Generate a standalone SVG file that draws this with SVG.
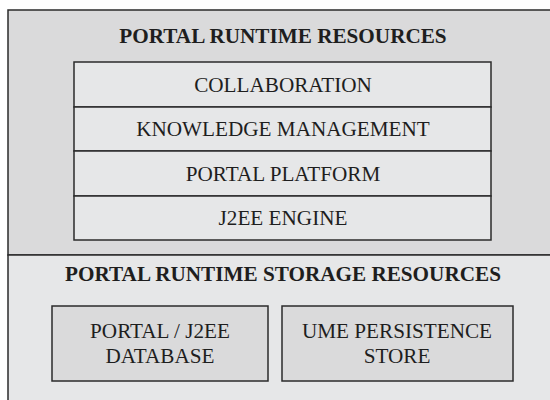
<svg xmlns="http://www.w3.org/2000/svg" width="550" height="400" viewBox="0 0 550 400">
  <style>
    .frame { stroke: #2b2b2b; stroke-width: 1.5; }
    .dark { fill: #dadadb; }
    .light { fill: #e6e7e8; }
    .title { font-family: "Liberation Serif", "Times New Roman", serif; font-weight: bold; font-size: 21.2px; fill: #1e1e1e; text-anchor: middle; }
    .label { font-family: "Liberation Serif", "Times New Roman", serif; font-size: 21.2px; fill: #1e1e1e; text-anchor: middle; }
  </style>
  <rect width="550" height="400" fill="#ffffff"/>

  <!-- runtime resources section -->
  <g id="runtime">
    <rect class="frame dark" x="8" y="10" width="550" height="245"/>
    <text class="title" x="283" y="43">PORTAL RUNTIME RESOURCES</text>
  </g>

  <!-- storage resources section -->
  <g id="storage">
    <rect class="frame light" x="8" y="255" width="550" height="160"/>
    <text class="title" x="283" y="281">PORTAL RUNTIME STORAGE RESOURCES</text>
  </g>

  <!-- layered stack -->
  <g id="collaboration">
    <rect class="frame light" x="74" y="62" width="417" height="45"/>
    <text class="label" x="283" y="92">COLLABORATION</text>
  </g>
  <g id="knowledge-management">
    <rect class="frame light" x="74" y="107" width="417" height="44"/>
    <text class="label" x="283" y="136">KNOWLEDGE MANAGEMENT</text>
  </g>
  <g id="portal-platform">
    <rect class="frame light" x="74" y="151" width="417" height="45"/>
    <text class="label" x="283" y="181">PORTAL PLATFORM</text>
  </g>
  <g id="j2ee-engine">
    <rect class="frame light" x="74" y="196" width="417" height="44"/>
    <text class="label" x="283" y="225">J2EE ENGINE</text>
  </g>

  <!-- storage stores -->
  <g id="portal-database">
    <rect class="frame dark" x="52" y="306" width="216" height="75"/>
    <text class="label" x="160" y="338">PORTAL / J2EE</text>
    <text class="label" x="160" y="363">DATABASE</text>
  </g>
  <g id="ume-store">
    <rect class="frame dark" x="282" y="306" width="231" height="75"/>
    <text class="label" x="397" y="338">UME PERSISTENCE</text>
    <text class="label" x="397" y="363">STORE</text>
  </g>

  <g id="connectors"/>
</svg>
